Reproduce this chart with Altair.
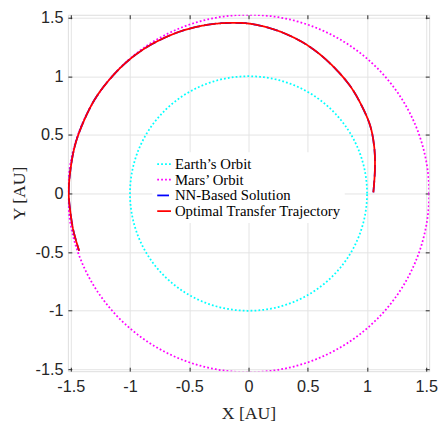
import altair as alt
import numpy as np
import pandas as pd

series_names = ["Earth’s Orbit", "Mars’ Orbit", "NN-Based Solution", "Optimal Transfer Trajectory"]
series_colors = ["#00FFFF", "#FF00FF", "#0000FF", "#FF0000"]
series_dash = [[1.8, 2.2], [1.8, 2.2], [12, 4], [1, 0]]
series_width = [1.8, 1.8, 4.4, 2.0]

orbit_radius = [1.0, 1.524]  # AU (Earth, Mars)

traj_x = [1.053, 1.066, 1.061, 1.025, 0.936, 0.856, 0.740, 0.604, 0.467, 0.291, 0.125,
          -0.025, -0.230, -0.409, -0.585, -0.778, -0.913, -1.048, -1.184, -1.297, -1.393,
          -1.462, -1.503, -1.517, -1.503, -1.476, -1.429]
traj_y = [0.01, 0.198, 0.39, 0.582, 0.785, 0.918, 1.057, 1.185, 1.283, 1.371, 1.425,
          1.452, 1.452, 1.427, 1.379, 1.294, 1.212, 1.104, 0.959, 0.803, 0.61,
          0.418, 0.198, 0.006, -0.159, -0.324, -0.489]
nn_x = traj_x
nn_y = traj_y

tick_values = [-1.5, -1, -0.5, 0, 0.5, 1, 1.5]
x_domain = [-1.524, 1.524]
y_domain = [-1.515, 1.524]

rows = []
ang = np.linspace(0, 2 * np.pi, 721)
for name, r in zip(series_names[:2], orbit_radius):
    for i, a in enumerate(ang):
        rows.append({"series": name, "idx": i, "x": r * np.cos(a), "y": r * np.sin(a)})
for i, (x, y) in enumerate(zip(nn_x, nn_y)):
    rows.append({"series": series_names[2], "idx": i, "x": x, "y": y})
for i, (x, y) in enumerate(zip(traj_x, traj_y)):
    rows.append({"series": series_names[3], "idx": i, "x": x, "y": y})
df = pd.DataFrame(rows)

xs = alt.Scale(domain=x_domain, nice=False, zero=False)
ys = alt.Scale(domain=y_domain, nice=False, zero=False)

tick_color = "#262626"
label_font = "Liberation Sans"
serif = "Liberation Serif"
lbl = "datum.value < 0 ? '-' + format(-datum.value, '~g') : format(datum.value, '~g')"

common = dict(values=tick_values, labelExpr=lbl, grid=True, domain=False,
              tickSize=4, offset=-4, tickColor=tick_color,
              labelFont=label_font, labelFontSize=16.5, labelColor=tick_color,
              titleFont=serif, titleFontSize=18, titleFontWeight="normal",
              titleColor=tick_color, gridColor="#e3e3e3")
axis_x = alt.Axis(title="X [AU]", labelPadding=8, titlePadding=10, **common)
axis_y = alt.Axis(title="Y [AU]", labelPadding=5, titlePadding=7,
                  labelFlush=True, **common)

legend = alt.Legend(title=None, orient="none", legendX=86, legendY=140,
                    symbolType="stroke", symbolSize=196, labelFont=serif,
                    labelFontSize=15, labelColor="black", fillColor="white",
                    padding=4, rowPadding=0, labelOffset=3, labelLimit=400)

base = alt.Chart(df).encode(
    x=alt.X("x:Q", scale=xs, axis=axis_x),
    y=alt.Y("y:Q", scale=ys, axis=axis_y),
    order="idx:Q",
    color=alt.Color("series:N", scale=alt.Scale(domain=series_names, range=series_colors), legend=legend),
    strokeDash=alt.StrokeDash("series:N", scale=alt.Scale(domain=series_names, range=series_dash), legend=legend),
    strokeWidth=alt.StrokeWidth("series:N", scale=alt.Scale(domain=series_names, range=series_width), legend=legend),
)

lines = []
for name in series_names:
    interp = "catmull-rom" if name in series_names[2:] else "linear"
    lines.append(base.transform_filter(alt.datum.series == name).mark_line(clip=True, interpolate=interp))

frame = alt.Chart(df).transform_filter(alt.datum.series == series_names[1]).mark_point(opacity=0).encode(
    x=alt.X("x:Q", scale=xs, axis=alt.Axis(orient="top", values=tick_values, labels=False, title=None,
                                           grid=False, domain=False, tickSize=4, offset=-4, tickColor=tick_color)),
    y=alt.Y("y:Q", scale=ys, axis=alt.Axis(orient="right", values=tick_values, labels=False, title=None,
                                           grid=False, domain=False, tickSize=4, offset=-4, tickColor=tick_color)),
)

chart = alt.layer(alt.layer(*lines), frame).resolve_axis(x="independent", y="independent").properties(
    width=368, height=363,
    autosize=alt.AutoSizeParams(type="none"),
    padding={"left": 61, "top": 3, "right": 10, "bottom": 55},
).configure_view(stroke=tick_color, strokeWidth=1).configure(background="white")

chart.save("out.html", embed_options={"renderer": "svg", "actions": False})
